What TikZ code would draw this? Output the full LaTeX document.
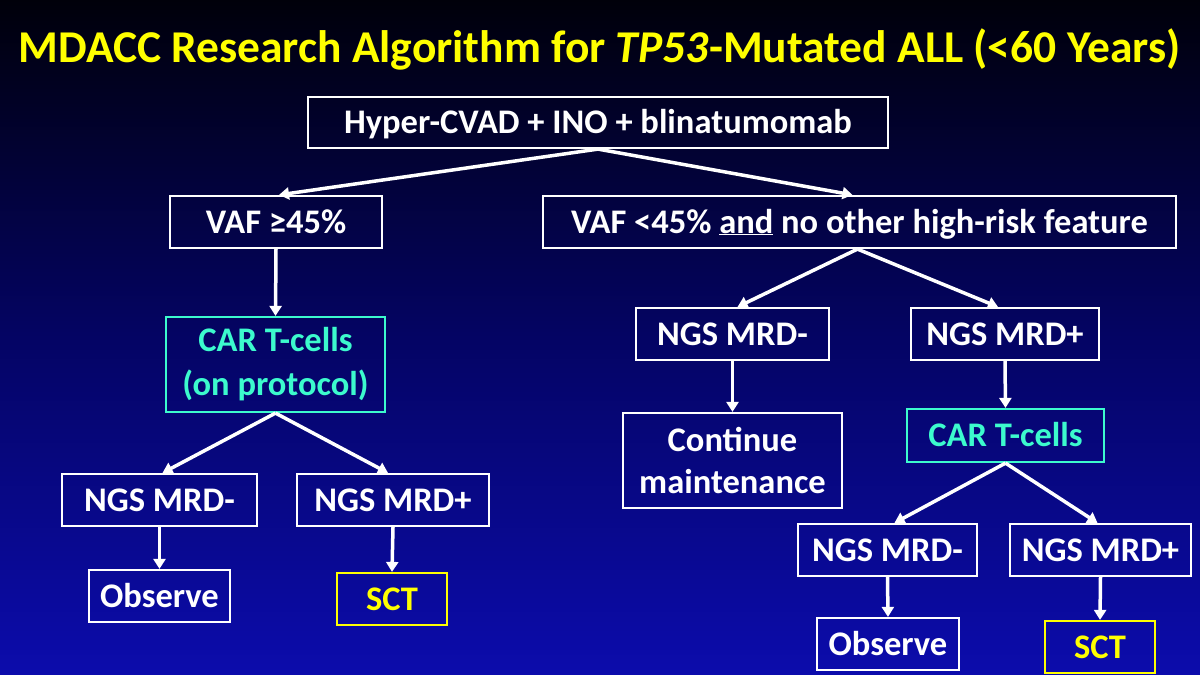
\documentclass[tikz,border=0pt]{standalone}
\usepackage{fontspec}
\setmainfont{Carlito}
\usetikzlibrary{arrows.meta,calc}
\definecolor{ttl}{RGB}{255,255,0}
\definecolor{carc}{RGB}{60,250,205}
\definecolor{bgtop}{RGB}{0,0,10}
\definecolor{bgmid}{RGB}{4,4,100}
\definecolor{bgbot}{RGB}{12,12,172}
\begin{document}
\begin{tikzpicture}[x=1pt,y=-1pt,
  box/.style={draw=white,line width=2.2pt,text=white,font=\bfseries\fontsize{34.5}{44}\selectfont,align=center,inner sep=0pt,minimum height=52pt},
  oneline/.style={text height=22pt,text depth=0pt},
  car/.style={draw=carc,text=carc},
  sct/.style={draw=ttl,text=ttl},
  arr/.style={draw=white,line width=3.5pt,-{Triangle[length=10pt,width=12pt]}}]
\fill[top color=bgtop,bottom color=bgbot,middle color=bgmid] (0,0) rectangle (1200,675);
\useasboundingbox (0,0) rectangle (1200,675);
\node[font=\bfseries\fontsize{45.5}{50}\selectfont,text=ttl,anchor=base,inner sep=0pt] (title) at (599.5,62.5) {MDACC Research Algorithm for \textit{TP53}-Mutated ALL (<60 Years)};
\node[box,oneline,minimum width=580pt,minimum height=51pt] (top) at (598,122.5) {Hyper-CVAD + INO + blinatumomab};
\node[box,oneline,minimum width=212pt] (vafhi) at (276,222) {VAF ≥45\%};
\node[box,oneline,minimum width=633pt] (vaflo) at (859.5,222) {VAF <45\% \underline{and} no other high-risk feature};
\node[box,car,minimum width=219pt,minimum height=95pt] (carL) at (275.5,364.5) {CAR T-cells\\(on protocol)};
\node[box,oneline,minimum width=193pt] (mrdnR) at (732.5,334) {NGS MRD-};
\node[box,oneline,minimum width=188pt] (mrdpR) at (1005,334) {NGS MRD+};
\node[box,font=\bfseries\fontsize{34.5}{42}\selectfont,minimum width=219pt,minimum height=95pt] (cont) at (732.5,460.5) {Continue\\maintenance};
\node[box,car,oneline,minimum width=197pt,minimum height=53pt] (carR) at (1005.5,435.5) {CAR T-cells};
\node[box,oneline,minimum width=195pt] (mrdnL) at (159.5,500) {NGS MRD-};
\node[box,oneline,minimum width=192pt] (mrdpL) at (393,500) {NGS MRD+};
\node[box,oneline,minimum width=141pt] (obsL) at (159.5,596) {Observe};
\node[box,sct,oneline,minimum width=110pt] (sctL) at (392,599) {SCT};
\node[box,oneline,minimum width=179pt] (mrdn3) at (887.5,550) {NGS MRD-};
\node[box,oneline,minimum width=181pt] (mrdp3) at (1100.5,550) {NGS MRD+};
\node[box,oneline,minimum width=142pt] (obs3) at (888,644) {Observe};
\node[box,sct,oneline,minimum width=110pt] (sct3) at (1100,647) {SCT};
\draw[arr] (top.south) -- ([xshift=3pt]vafhi.north);
\draw[arr] (top.south) -- ([xshift=-7pt]vaflo.north);
\draw[arr] (vafhi.south) -- (carL.north);
\draw[arr] (carL.south) -- ([xshift=3pt]mrdnL.north);
\draw[arr] (carL.south) -- ([xshift=-5pt]mrdpL.north);
\draw[arr] (mrdnL.south) -- (obsL.north);
\draw[arr] (mrdpL.south) -- (sctL.north);
\draw[arr] ([xshift=-2pt]vaflo.south) -- ([xshift=5pt]mrdnR.north);
\draw[arr] ([xshift=-2pt]vaflo.south) -- ([xshift=-7pt]mrdpR.north);
\draw[arr] (mrdnR.south) -- (cont.north);
\draw[arr] (mrdpR.south) -- (carR.north);
\draw[arr] (carR.south) -- ([xshift=7pt]mrdn3.north);
\draw[arr] (carR.south) -- ([xshift=-3pt]mrdp3.north);
\draw[arr] (mrdn3.south) -- (obs3.north);
\draw[arr] (mrdp3.south) -- (sct3.north);
\end{tikzpicture}
\end{document}
